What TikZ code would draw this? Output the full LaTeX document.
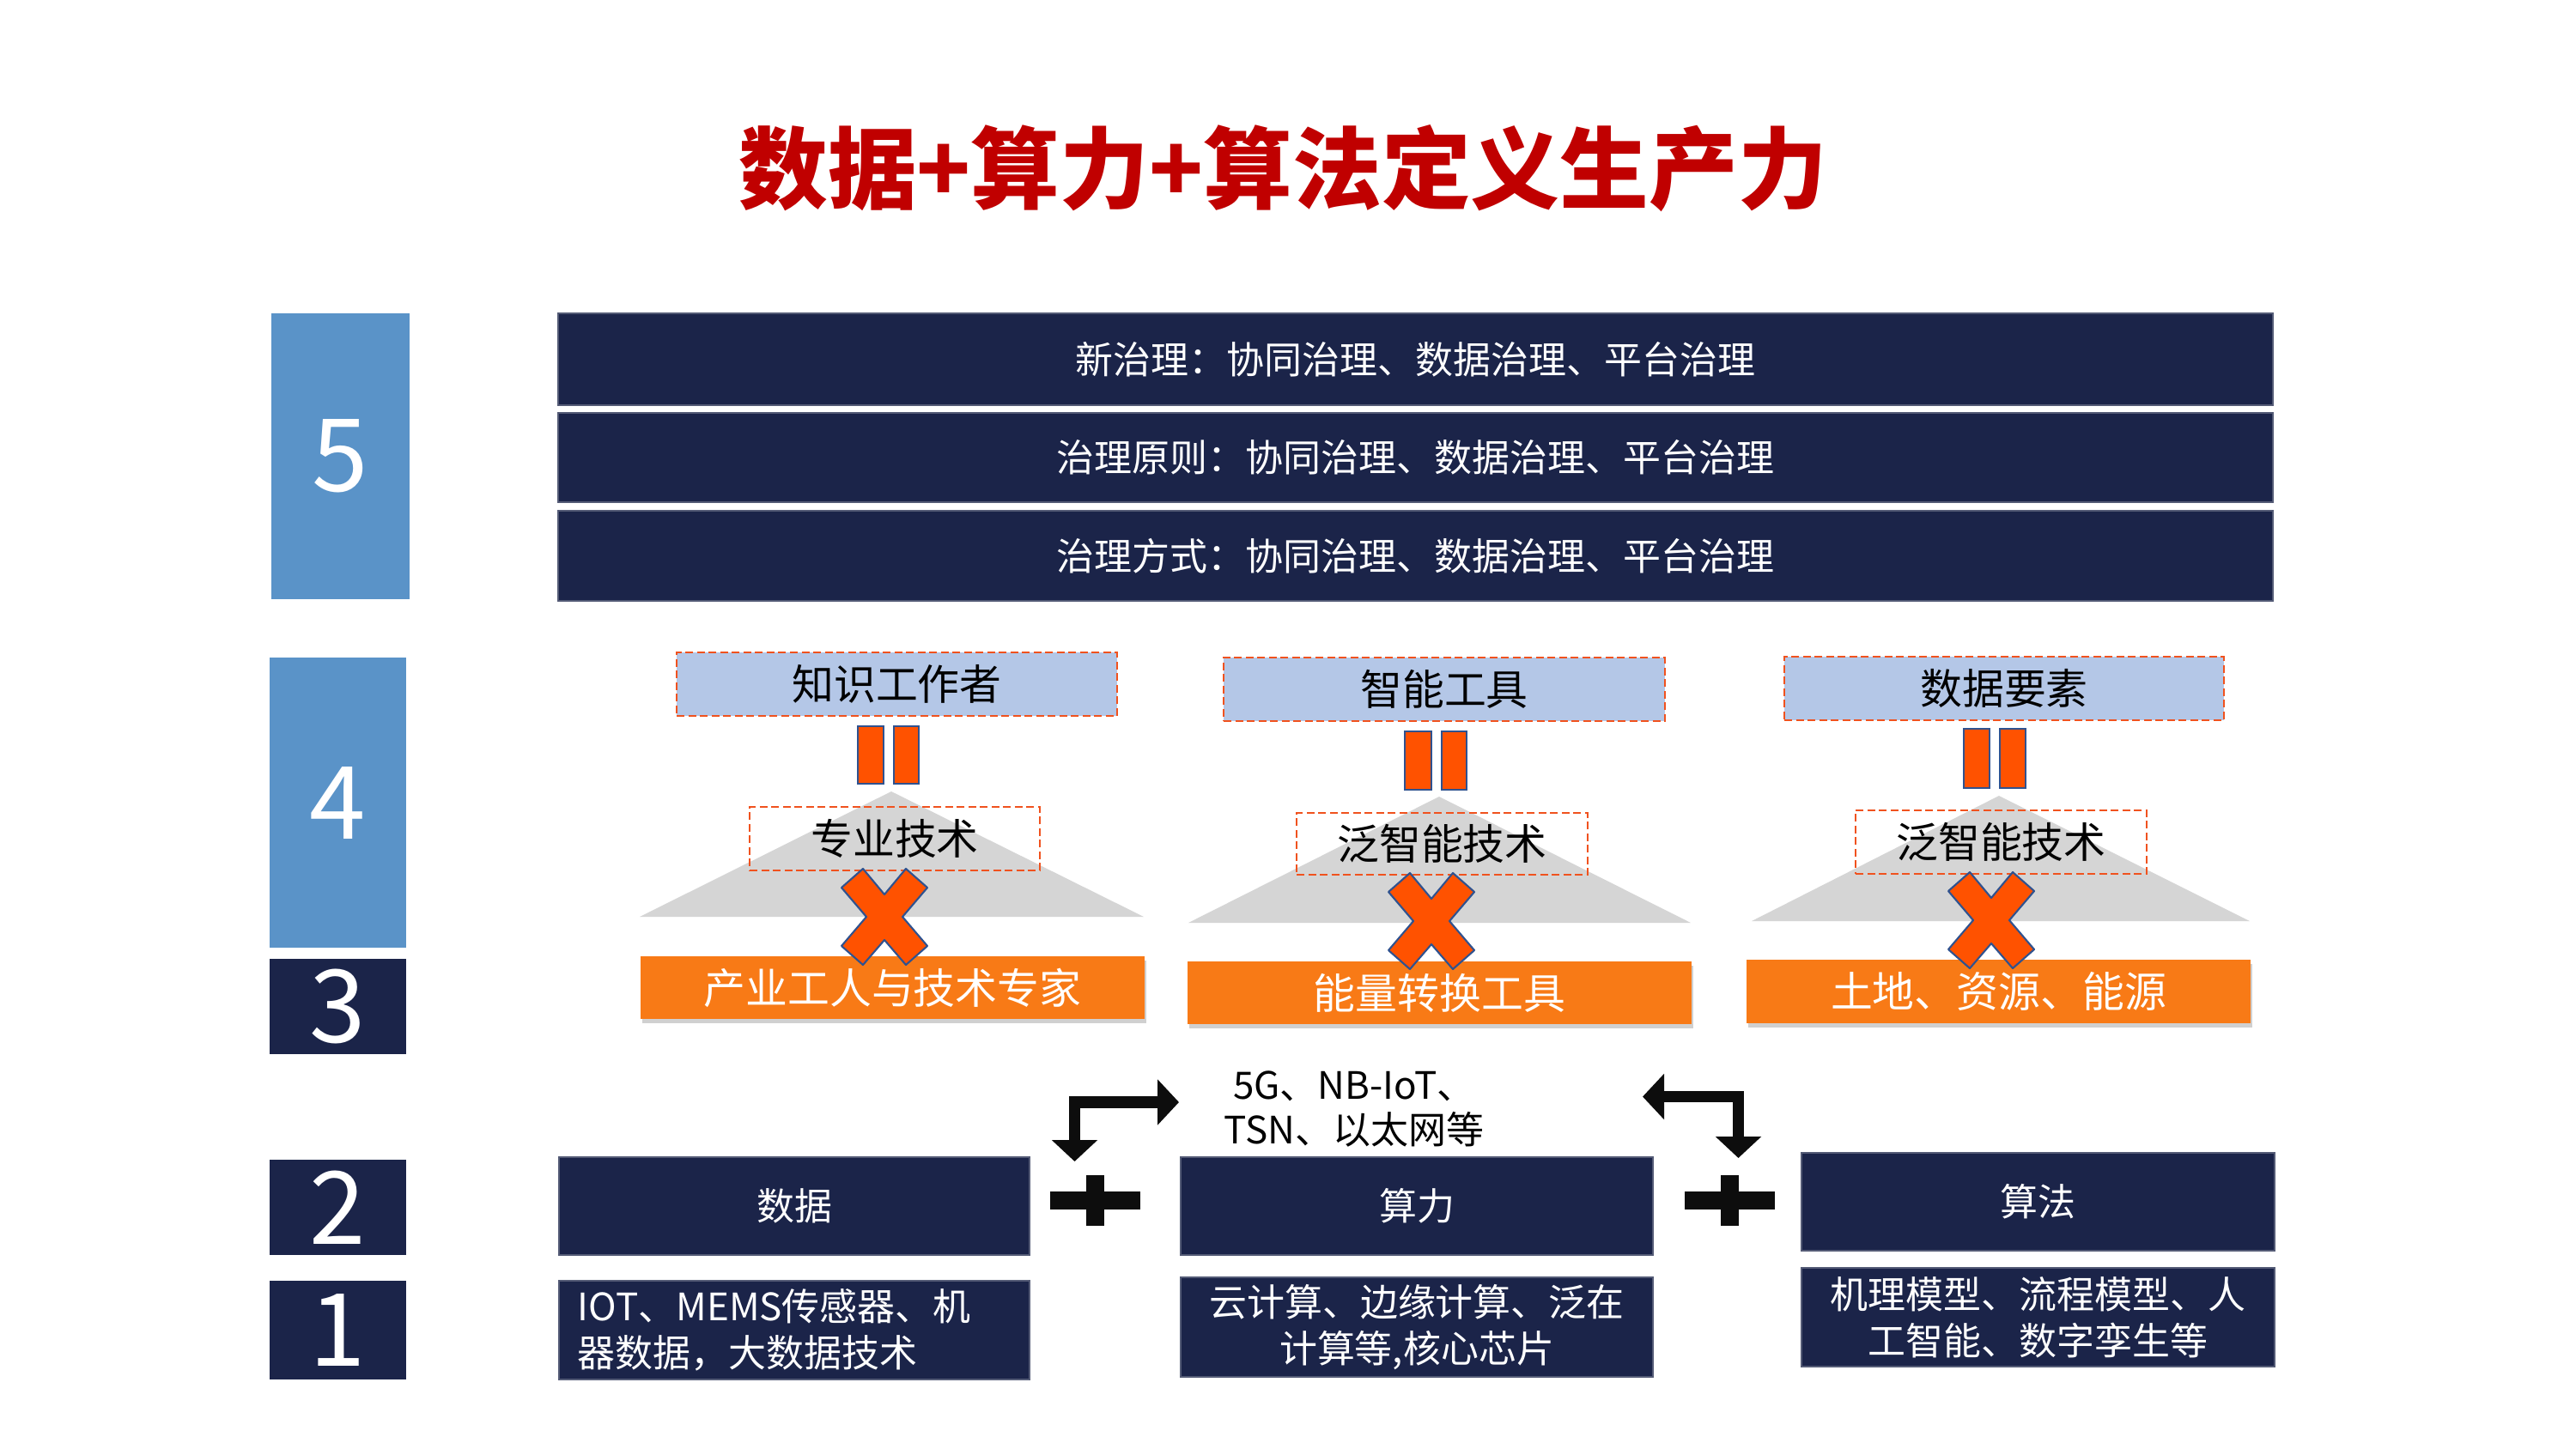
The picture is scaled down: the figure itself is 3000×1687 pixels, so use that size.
\documentclass[tikz,border=0pt]{standalone}
\usepackage{fontspec}
\setmainfont{Noto Sans CJK SC}
\usetikzlibrary{shadows,arrows.meta}
\definecolor{navy}{RGB}{27,36,73}
\definecolor{steel}{RGB}{90,147,200}
\definecolor{lblue}{RGB}{180,199,231}
\definecolor{dashred}{RGB}{240,82,30}
\definecolor{xfill}{RGB}{255,82,0}
\definecolor{xedge}{RGB}{47,82,143}
\definecolor{orangebar}{RGB}{248,122,22}
\definecolor{trigray}{RGB}{213,213,213}
\definecolor{titlered}{RGB}{192,0,0}
\begin{document}
\begin{tikzpicture}[x=0.01cm,y=-0.01cm,
  sz/.style 2 args={minimum width=#1*0.01cm, minimum height=#2*0.01cm},
  navybox/.style={fill=navy, draw=navy!75!white, line width=0.4pt, text=white, inner sep=0pt},
  numbox/.style={inner sep=0pt, text=white, font=\fontsize{33.5pt}{36pt}\selectfont},
  govtext/.style={font=\fontsize{12.5pt}{15pt}\selectfont},
  boxtext/.style={font=\fontsize{12.5pt}{15.4pt}\selectfont},
  lbbox/.style={fill=lblue, draw=dashred, line width=0.7pt, dash pattern=on 0.09cm off 0.045cm, inner sep=0pt, font=\fontsize{13.9pt}{16pt}\selectfont},
  techbox/.style={draw=dashred, line width=0.7pt, dash pattern=on 0.09cm off 0.045cm, inner sep=0pt, font=\fontsize{13.9pt}{16pt}\selectfont},
  obar/.style={fill=orangebar, inner sep=0pt, text=white, font=\fontsize{13.9pt}{16pt}\selectfont,
    drop shadow={shadow xshift=0.015cm, shadow yshift=-0.05cm, opacity=0.3, fill=black!60}},
  eqbar/.style={fill=xfill, draw=xedge, line width=0.6pt},
  xmark/.style={fill=xfill, draw=xedge, line width=0.6pt, line join=round},
  tri/.style={fill=trigray},
  plusmark/.style={fill=black!95},
  barrow/.style={line width=0.135cm, line join=miter, draw=black!95,
    {Triangle[width=0.52cm,length=0.25cm]}-{Triangle[width=0.52cm,length=0.25cm]}}
]
\useasboundingbox (0,0) rectangle (3000,1687);
\fill[white] (0,0) rectangle (3000,1687);

% title
\node[text=titlered, font=\fontsize{29.5pt}{32pt}\selectfont\bfseries] (title) at (1494,196) {数据+算力+算法定义生产力};

% layer numbers
\node[numbox, fill=steel, sz={161}{333}] (n5) at (396.5,531.5) {5};
\node[numbox, fill=steel, sz={159}{338}] (n4) at (393.5,935) {4};
\node[numbox, fill=navy, sz={159}{111}] (n3) at (393.5,1172) {3};
\node[numbox, fill=navy, sz={159}{111}] (n2) at (393.5,1406.5) {2};
\node[numbox, fill=navy, sz={159}{115}] (n1) at (393.5,1549.5) {1};

% governance bars
\node[navybox, govtext, sz={1997}{107}] (g1) at (1648.5,418.5) {新治理：协同治理、数据治理、平台治理};
\node[navybox, govtext, sz={1997}{104}] (g2) at (1648.5,533) {治理原则：协同治理、数据治理、平台治理};
\node[navybox, govtext, sz={1997}{105}] (g3) at (1648.5,647.5) {治理方式：协同治理、数据治理、平台治理};

% column 1
\fill[tri] (745,1068) -- (1038,922) -- (1332,1068) -- cycle;
\node[lbbox, sz={513}{74}] (k1) at (1044.5,797) {知识工作者};
\draw[eqbar] (999,846) rectangle (1029,913);
\draw[eqbar] (1041,846) rectangle (1070,913);
\node[techbox, sz={338}{74}] (t1) at (1042,977) {专业技术};
\node[obar, sz={587}{73}] (o1) at (1039.5,1150.5) {产业工人与技术专家};
\draw[xmark, shift={(1030,1068)}] (-50,-34) -- (-25,-56) -- (0,-26) -- (25,-56) -- (50,-34) -- (21,0) -- (50,34) -- (25,56) -- (0,27) -- (-25,56) -- (-50,34) -- (-21,0) -- cycle;

% column 2
\fill[tri] (1384,1075) -- (1676,928) -- (1969,1075) -- cycle;
\node[lbbox, sz={514}{74}] (k2) at (1682,803) {智能工具};
\draw[eqbar] (1636,852) rectangle (1667,920);
\draw[eqbar] (1679,852) rectangle (1708,920);
\node[techbox, sz={339}{72}] (t2) at (1679.5,983) {泛智能技术};
\node[obar, sz={587}{73}] (o2) at (1676.5,1156.5) {能量转换工具};
\draw[xmark, shift={(1667,1073)}] (-50,-34) -- (-25,-56) -- (0,-26) -- (25,-56) -- (50,-34) -- (21,0) -- (50,34) -- (25,56) -- (0,27) -- (-25,56) -- (-50,34) -- (-21,0) -- cycle;

% column 3
\fill[tri] (2040,1073) -- (2328,927) -- (2620,1073) -- cycle;
\node[lbbox, sz={512}{74}] (k3) at (2334,802) {数据要素};
\draw[eqbar] (2287,849) rectangle (2317,918);
\draw[eqbar] (2329,849) rectangle (2359,918);
\node[techbox, sz={339}{74}] (t3) at (2330.5,981) {泛智能技术};
\node[obar, sz={587}{74}] (o3) at (2327.5,1155) {土地、资源、能源};
\draw[xmark, shift={(2319,1072)}] (-50,-34) -- (-25,-56) -- (0,-26) -- (25,-56) -- (50,-34) -- (21,0) -- (50,34) -- (25,56) -- (0,27) -- (-25,56) -- (-50,34) -- (-21,0) -- cycle;

% network label
\node[align=center, font=\fontsize{12.5pt}{14.8pt}\selectfont] (net) at (1577,1292) {5G、NB-IoT、\\TSN、以太网等};

% row 2
\node[navybox, boxtext, sz={548}{114}] (d2) at (925,1405) {数据};
\node[navybox, boxtext, sz={550}{114}] (c2) at (1650,1405) {算力};
\node[navybox, boxtext, sz={551}{114}] (a2) at (2373.5,1400) {算法};

% row 1
\node[navybox, boxtext, sz={548}{115}, align=left, text width=5.04cm] (d1) at (925,1549.5) {IOT、MEMS传感器、机\\器数据，大数据技术};
\node[navybox, boxtext, sz={550}{116}, align=center, text width=5.1cm] (c1) at (1650,1546) {云计算、边缘计算、泛在\\计算等,核心芯片};
\node[navybox, boxtext, sz={551}{115}, align=center, text width=5.1cm] (a1) at (2373.5,1534.5) {机理模型、流程模型、人\\工智能、数字孪生等};

% plus signs
\fill[plusmark] (1223,1388) rectangle (1328,1409);
\fill[plusmark] (1265,1369) rectangle (1286,1428);
\fill[plusmark] (1962,1388) rectangle (2067,1409);
\fill[plusmark] (2004,1369) rectangle (2025,1428);

% bent double arrows
\coordinate (la1) at (1251.5,1353);
\coordinate (la2) at (1373,1284);
\draw[barrow] (la1) |- (la2);
\coordinate (ra1) at (1913,1277.5);
\coordinate (ra2) at (2024.5,1349);
\draw[barrow] (ra1) -| (ra2);
\end{tikzpicture}
\end{document}
